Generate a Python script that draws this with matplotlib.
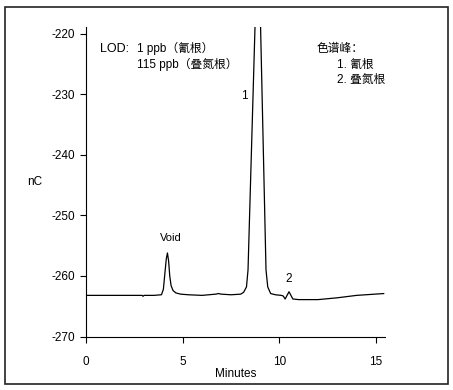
import matplotlib
matplotlib.use("Agg")
import matplotlib.pyplot as plt
from matplotlib.patches import Rectangle

plt.rcParams['font.family'] = ['Liberation Sans', 'Noto Sans CJK SC', 'DejaVu Sans']
plt.rcParams['font.size'] = 8
plt.rcParams['axes.unicode_minus'] = False

# chromatogram (minutes, nC)
minutes = [0.0, 1.0, 2.0, 2.9, 2.95, 3.0, 3.5, 3.9, 4.0, 4.08, 4.15, 4.21, 4.27, 4.33,
           4.4, 4.5, 4.65, 4.9, 5.3, 6.0, 6.7, 6.85, 7.0, 7.5, 8.0, 8.15, 8.3,
           8.38, 8.74, 8.88, 9.03, 9.31, 9.4, 9.55, 9.8, 10.1, 10.2, 10.3, 10.4,
           10.5, 10.6, 10.7, 11.0, 12.0, 13.0, 14.0, 15.4]
signal = [-263.2, -263.2, -263.2, -263.2, -263.35, -263.2, -263.2, -263.1, -262.2, -259.5,
          -257.2, -256.2, -257.5, -260.0, -261.6, -262.4, -262.8, -263.0, -263.1, -263.2,
          -263.0, -262.9, -263.0, -263.1, -263.0, -262.7, -261.8,
          -259.0, -219.0, -200.0, -219.0, -259.0, -261.8, -262.9, -263.1, -263.2,
          -263.3, -263.8, -263.2, -262.6, -263.2, -263.8, -263.9, -263.9, -263.6,
          -263.2, -262.9]

x_ticks = [0, 5, 10, 15]
y_ticks = [-270, -260, -250, -240, -230, -220]

fig = plt.figure(figsize=(4.53, 3.9), dpi=100)
ax = fig.add_axes([0.19, 0.137, 0.66, 0.793])

ax.plot(minutes, signal, color='black', lw=0.9)

ax.set_xlim(0, 15.47)
ax.set_ylim(-270, -218.95)
ax.set_xticks(x_ticks)
ax.set_yticks(y_ticks)
ax.tick_params(direction='out', length=4, width=0.8, pad=10, labelsize=8.5)
ax.tick_params(axis='y', pad=4)
for side in ['top', 'right']:
    ax.spines[side].set_visible(False)
for side in ['left', 'bottom']:
    ax.spines[side].set_linewidth(0.8)

ax.set_xlabel('Minutes', fontsize=8.5, labelpad=0)
ax.set_ylabel('nC', fontsize=8.5, rotation=0, labelpad=12, va='center')

# peak labels
ax.text(4.4, -254.5, 'Void', fontsize=8, ha='center', va='bottom')
ax.text(8.2, -231.3, '1', fontsize=8.5, ha='center', va='bottom')
ax.text(10.5, -261.5, '2', fontsize=8.5, ha='center', va='bottom')

# annotations
ax.text(0.7, -222.5, 'LOD:', fontsize=9, va='center')
ax.text(2.65, -222.5, '1 ppb（氰根）', fontsize=8.5, va='center')
ax.text(2.65, -225.0, '115 ppb（叠氮根）', fontsize=8.5, va='center')
ax.text(11.9, -222.5, '色谱峰：', fontsize=8.5, va='center')
ax.text(13.0, -225.1, '1. 氰根', fontsize=8.5, va='center')
ax.text(13.0, -227.7, '2. 叠氮根', fontsize=8.5, va='center')

# outer frame
fig.patches.append(Rectangle((5 / 453, 1 - 384 / 390), 443 / 453, 377 / 390,
                             transform=fig.transFigure, fill=False,
                             edgecolor='#222222', lw=1.2))

fig.savefig('out.png', dpi=100)
